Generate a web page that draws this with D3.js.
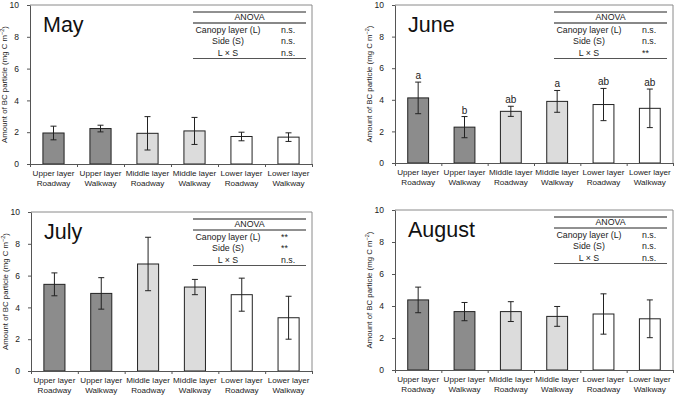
<!DOCTYPE html>
<html>
<head>
<meta charset="utf-8">
<script src="https://cdn.jsdelivr.net/npm/d3@7"></script>
<style>
  body { margin: 0; background: #fff; }
  svg { display: block; font-family: "Liberation Sans", Arial, sans-serif; }
</style>
</head>
<body>
<div id="chart"></div>
<script>
// data (mean and error bar half-length, mg C m-2)
const categories = ["Upper layer|Roadway", "Upper layer|Walkway", "Middle layer|Roadway",
                    "Middle layer|Walkway", "Lower layer|Roadway", "Lower layer|Walkway"];
const layers = ["Upper", "Upper", "Middle", "Middle", "Lower", "Lower"];

const mayMeans = [1.95, 2.23, 1.93, 2.08, 1.73, 1.69];
const mayErr   = [0.43, 0.21, 1.05, 0.85, 0.27, 0.27];

const juneMeans = [4.12, 2.27, 3.27, 3.90, 3.70, 3.46];
const juneErr   = [1.00, 0.67, 0.32, 0.69, 1.02, 1.22];
const juneLetters = ["a", "b", "ab", "a", "ab", "ab"];

const julyMeans = [5.45, 4.88, 6.73, 5.28, 4.80, 3.35];
const julyErr   = [0.72, 0.99, 1.68, 0.48, 1.04, 1.35];

const augustMeans = [4.38, 3.65, 3.65, 3.35, 3.50, 3.20];
const augustErr   = [0.80, 0.57, 0.62, 0.62, 1.26, 1.18];

const anovaFactors = ["Canopy layer (L)", "Side (S)", "L \u00d7 S"];
const mayAnova    = ["n.s.", "n.s.", "n.s."];
const juneAnova   = ["n.s.", "n.s.", "**"];
const julyAnova   = ["**", "**", "n.s."];
const augustAnova = ["n.s.", "n.s.", "n.s."];

const yTicks = [0, 2, 4, 6, 8, 10];

// panel boxes (pixel layout)
const panels = [
  {title: "May",    means: mayMeans,    err: mayErr,    anova: mayAnova,    letters: null,        x0: 30,  x1: 312, y0: 5,   y1: 164, swap: false},
  {title: "June",   means: juneMeans,   err: juneErr,   anova: juneAnova,   letters: juneLetters, x0: 395, x1: 673, y0: 5,   y1: 163, swap: false},
  {title: "July",   means: julyMeans,   err: julyErr,   anova: julyAnova,   letters: null,        x0: 31,  x1: 312, y0: 212, y1: 371, swap: true},
  {title: "August", means: augustMeans, err: augustErr, anova: augustAnova, letters: null,        x0: 395, x1: 673, y0: 210, y1: 370, swap: true}
];

const color = d3.scaleOrdinal(["Upper", "Middle", "Lower"], ["#8c8c8c", "#dcdcdc", "#ffffff"]);

const svg = d3.select("#chart").append("svg")
    .attr("width", 677)
    .attr("height", 396);

panels.forEach(p => {
  const g = svg.append("g");
  const idx = d3.range(categories.length);

  const xScale = d3.scaleBand()
    .domain(idx)
    .range([p.x0, p.x1])
    .paddingInner(0.55)
    .paddingOuter(0.275);

  const yScale = d3.scaleLinear()
    .domain([0, 10])
    .range([p.y1, p.y0]);

  // frame (top and right)
  g.append("path")
    .attr("d", `M${p.x0},${p.y0}H${p.x1}V${p.y1}`)
    .attr("fill", "none")
    .attr("stroke", "#8a8a8a")
    .attr("stroke-width", 1);

  // bars
  g.selectAll(".bar")
    .data(idx)
    .join("rect")
      .attr("x", i => xScale(i))
      .attr("y", i => yScale(p.means[i]))
      .attr("width", xScale.bandwidth())
      .attr("height", i => yScale(0) - yScale(p.means[i]))
      .attr("fill", i => color(layers[i]))
      .attr("stroke", "#222")
      .attr("stroke-width", 1);

  // error bars
  const cap = 3;
  const eb = g.selectAll(".err")
    .data(idx)
    .join("g")
      .attr("stroke", "#222")
      .attr("stroke-width", 1);
  eb.append("line")
    .attr("x1", i => xScale(i) + xScale.bandwidth() / 2)
    .attr("x2", i => xScale(i) + xScale.bandwidth() / 2)
    .attr("y1", i => yScale(p.means[i] + p.err[i]))
    .attr("y2", i => yScale(p.means[i] - p.err[i]));
  [1, -1].forEach(s => {
    eb.append("line")
      .attr("x1", i => xScale(i) + xScale.bandwidth() / 2 - cap)
      .attr("x2", i => xScale(i) + xScale.bandwidth() / 2 + cap)
      .attr("y1", i => yScale(p.means[i] + s * p.err[i]))
      .attr("y2", i => yScale(p.means[i] + s * p.err[i]));
  });

  // letters (June)
  if (p.letters) {
    g.selectAll(".letter")
      .data(idx)
      .join("text")
        .attr("x", i => xScale(i) + xScale.bandwidth() / 2)
        .attr("y", i => yScale(p.means[i] + p.err[i]) - 3)
        .attr("text-anchor", "middle")
        .attr("font-size", 10)
        .attr("fill", "#222")
        .text(i => p.letters[i]);
  }

  // y axis
  const yAxis = g.append("g")
    .attr("transform", `translate(${p.x0},0)`)
    .call(d3.axisLeft(yScale).tickValues(yTicks).tickSize(3).tickPadding(8).tickSizeOuter(0));
  yAxis.select(".domain").attr("stroke", "#555");
  yAxis.selectAll(".tick line").attr("stroke", "#555");
  yAxis.selectAll("text").attr("font-size", 8.5).attr("fill", "#222")
    .attr("font-family", "Liberation Sans, Arial, sans-serif");

  // x axis: ticks at category boundaries
  const xb = d3.scaleLinear().domain([0, 6]).range([p.x0, p.x1]);
  const xAxis = g.append("g")
    .attr("transform", `translate(0,${p.y1})`)
    .call(d3.axisBottom(xb).tickValues(d3.range(7)).tickSize(3).tickFormat("").tickSizeOuter(0));
  xAxis.select(".domain").attr("stroke", "#555");
  xAxis.selectAll(".tick line").attr("stroke", "#555");

  // category labels
  const lab = g.selectAll(".cat")
    .data(idx)
    .join("text")
      .attr("text-anchor", "middle")
      .attr("font-size", 8.1)
      .attr("fill", "#222");
  lab.each(function (i) {
    const parts = categories[i].split("|");
    const cx = xScale(i) + xScale.bandwidth() / 2;
    parts.forEach((t, k) => {
      d3.select(this).append("tspan")
        .attr("x", cx)
        .attr("y", p.y1 + 12 + k * 10)
        .text(t);
    });
  });

  // y label
  const yl = g.append("text")
    .attr("transform", `translate(${p.x0 - 23},${(p.y0 + p.y1) / 2}) rotate(-90)`)
    .attr("text-anchor", "middle")
    .attr("font-size", 7.8)
    .attr("fill", "#222");
  yl.append("tspan").text("Amount of BC particle (mg C m");
  yl.append("tspan").attr("font-size", 5.5).attr("dy", -3).text("\u22122");
  yl.append("tspan").attr("dy", 3).text(")");

  // month title
  g.append("text")
    .attr("x", p.x0 + 13)
    .attr("y", p.y0 + 27)
    .attr("font-size", 21.5)
    .attr("fill", "#111")
    .text(p.title);

  // ANOVA table
  const tl = p.x1 - 119, tr = p.x1 - 6;
  const lineA = p.swap ? {c: "#888", w: 1.8} : {c: "#222", w: 1};
  const lineB = p.swap ? {c: "#222", w: 1} : {c: "#888", w: 1.8};
  g.append("line").attr("x1", tl).attr("x2", tr).attr("y1", p.y0 + 7).attr("y2", p.y0 + 7)
    .attr("stroke", lineA.c).attr("stroke-width", lineA.w);
  g.append("text").attr("x", (tl + tr) / 2).attr("y", p.y0 + 14.5)
    .attr("text-anchor", "middle").attr("font-size", 8.8).attr("fill", "#222").text("ANOVA");
  g.append("line").attr("x1", tl).attr("x2", tr).attr("y1", p.y0 + 18).attr("y2", p.y0 + 18)
    .attr("stroke", lineB.c).attr("stroke-width", lineB.w);
  anovaFactors.forEach((f, k) => {
    const yy = p.y0 + 27.5 + k * 11.5;
    g.append("text").attr("x", p.x1 - 84).attr("y", yy)
      .attr("text-anchor", "middle").attr("font-size", 8.8).attr("fill", "#222").text(f);
    g.append("text").attr("x", p.x1 - 31).attr("y", yy)
      .attr("font-size", 8.8).attr("fill", "#222").text(p.anova[k]);
  });
  g.append("line").attr("x1", tl).attr("x2", tr).attr("y1", p.y0 + 53.5).attr("y2", p.y0 + 53.5)
    .attr("stroke", "#555").attr("stroke-width", 1.2);
});
</script>
</body>
</html>
